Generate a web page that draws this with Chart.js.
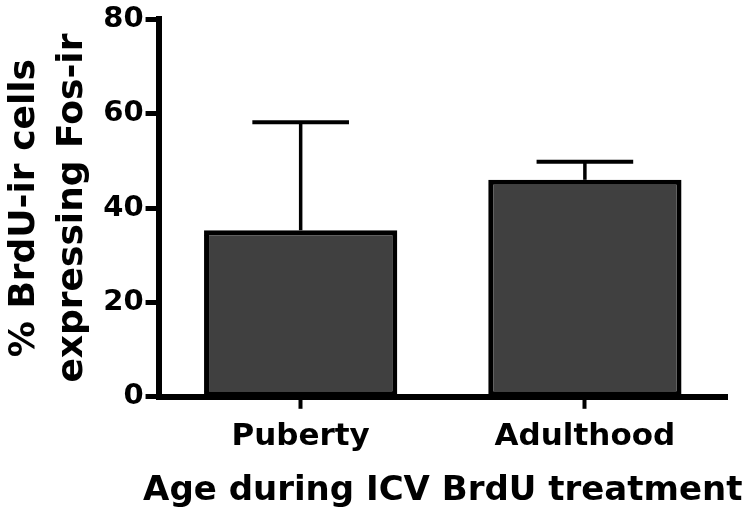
<!DOCTYPE html>
<html lang="en">
<head>
    <meta charset="UTF-8">
    <title>BrdU-ir cells expressing Fos-ir</title>
    <script src="https://cdn.jsdelivr.net/npm/chart.js"></script>
    <style>
        html, body { margin: 0; padding: 0; background: #fff; }
        #wrap { width: 750px; height: 513px; }
    </style>
</head>
<body>
    <div id="wrap"><canvas id="barChart"></canvas></div>

    <script>
        // values (mean and top of the SEM bar)
        const groups = ['Puberty', 'Adulthood'];
        const means = [35.3, 46.0];
        const upperErr = [58.2, 49.8];
        const yTicks = [0, 20, 40, 60, 80];
        const xTitle = 'Age during ICV BrdU treatment';

        const FONT = '"DejaVu Sans", Arial, sans-serif';

        // draws the one-sided error bars on top of each bar
        const errorBars = {
            id: 'errorBars',
            afterDatasetsDraw(chart) {
                const ctx = chart.ctx;
                const yScale = chart.scales.y;
                const meta = chart.getDatasetMeta(0);
                ctx.save();
                ctx.strokeStyle = '#000';
                meta.data.forEach((bar, i) => {
                    const yTop = yScale.getPixelForValue(upperErr[i]);
                    const half = bar.width / 4;
                    ctx.lineWidth = 3.5;
                    ctx.beginPath();
                    ctx.moveTo(bar.x, bar.y);
                    ctx.lineTo(bar.x, yTop);
                    ctx.stroke();
                    ctx.lineWidth = 4;
                    ctx.beginPath();
                    ctx.moveTo(bar.x - half, yTop);
                    ctx.lineTo(bar.x + half, yTop);
                    ctx.stroke();
                });
                ctx.restore();
            }
        };

        // x title drawn by hand: the built-in one gets squeezed to the plot width
        const bottomTitle = {
            id: 'bottomTitle',
            afterDraw(chart) {
                const ctx = chart.ctx;
                const area = chart.chartArea;
                ctx.save();
                ctx.fillStyle = '#000';
                ctx.font = 'bold 34px ' + FONT;
                ctx.textAlign = 'center';
                ctx.textBaseline = 'alphabetic';
                ctx.fillText(xTitle, (area.left + area.right) / 2, chart.height - 13);
                ctx.restore();
            }
        };

        new Chart(document.getElementById('barChart'), {
            type: 'bar',
            data: {
                labels: groups,
                datasets: [{
                    data: means,
                    backgroundColor: '#404040',
                    borderColor: '#000',
                    borderWidth: 5,
                    borderSkipped: false,
                    barPercentage: 0.68,
                    categoryPercentage: 1
                }]
            },
            options: {
                responsive: true,
                maintainAspectRatio: false,
                animation: false,
                layout: { padding: { top: 8, right: 23, left: 0, bottom: 47 } },
                plugins: {
                    legend: { display: false },
                    tooltip: { enabled: false }
                },
                scales: {
                    x: {
                        offset: true,
                        grid: {
                            offset: false,
                            drawOnChartArea: false,
                            drawTicks: true,
                            tickLength: 12,
                            tickWidth: 4,
                            tickColor: '#000'
                        },
                        border: { display: true, color: '#000', width: 6 },
                        ticks: {
                            color: '#000',
                            padding: 10,
                            font: { family: FONT, weight: 'bold', size: 31 }
                        }
                    },
                    y: {
                        min: 0,
                        max: 80,
                        afterBuildTicks(scale) {
                            scale.ticks = yTicks.map(v => ({ value: v }));
                        },
                        grid: {
                            drawOnChartArea: false,
                            drawTicks: true,
                            tickLength: 13,
                            tickWidth: 5,
                            tickColor: '#000'
                        },
                        border: { display: true, color: '#000', width: 6 },
                        ticks: {
                            color: '#000',
                            padding: 2,
                            font: { family: FONT, weight: 'bold', size: 29 }
                        },
                        title: {
                            display: true,
                            text: ['% BrdU-ir cells', 'expressing Fos-ir'],
                            color: '#000',
                            padding: { top: 0, bottom: 4 },
                            font: { family: FONT, weight: 'bold', size: 36, lineHeight: 1.35 }
                        }
                    }
                }
            },
            plugins: [errorBars, bottomTitle]
        });
    </script>
</body>
</html>
